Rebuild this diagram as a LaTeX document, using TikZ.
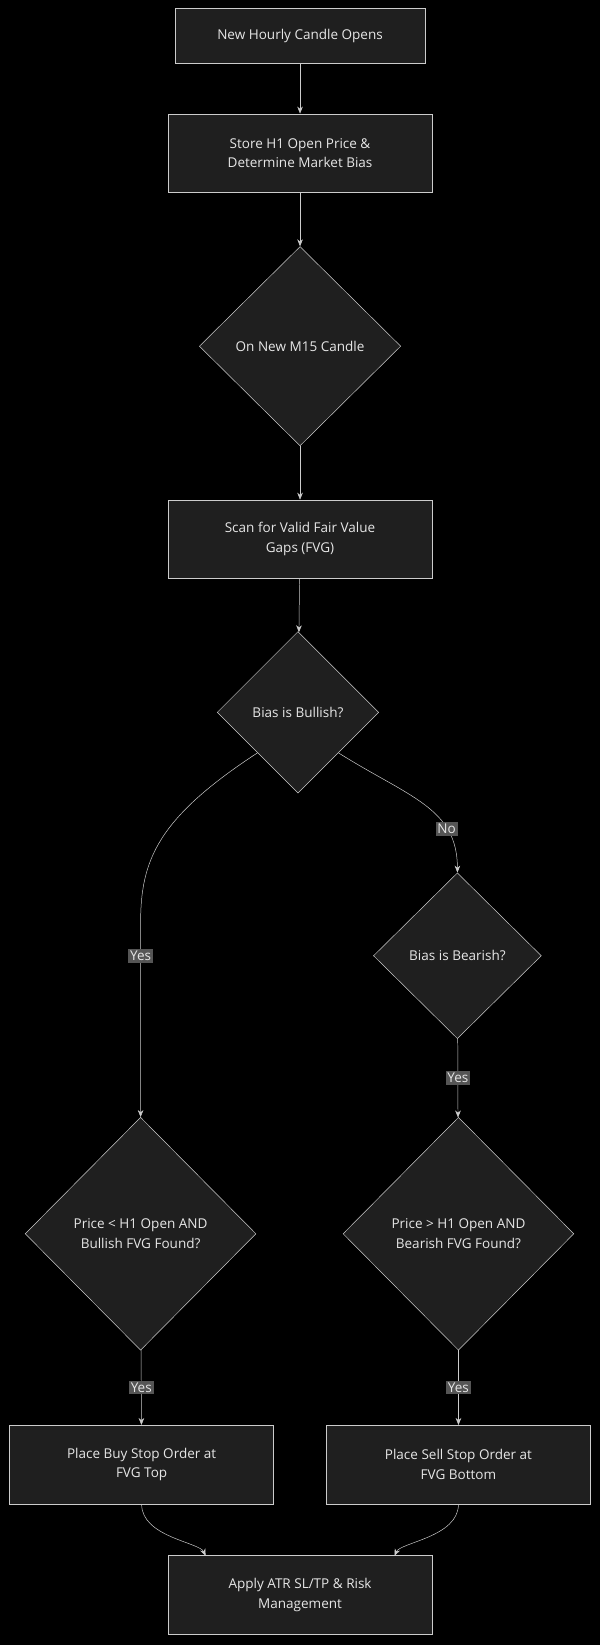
\documentclass[tikz,border=0pt]{standalone}
\usepackage{fontspec}
\setmainfont{Open Sans}
\usetikzlibrary{arrows.meta,shapes.geometric}
\definecolor{bg}{HTML}{000000}
\definecolor{boxfill}{HTML}{1F1F1F}
\definecolor{edge}{HTML}{CCCCCC}
\definecolor{txt}{HTML}{E6E6E6}
\definecolor{lbl}{HTML}{555555}
\tikzset{
  step/.style={draw=edge, fill=boxfill, text=txt, align=center, font=\fontsize{11}{16}\selectfont, minimum width=#1, inner sep=0pt},
  step/.default={7.55cm},
  check/.style={draw=edge, fill=boxfill, text=txt, align=center, diamond, inner sep=0pt, font=\fontsize{11}{16}\selectfont},
  flow/.style={draw=edge, -{Stealth[length=2mm,width=1.6mm]}},
  tag/.style={fill=lbl, text=txt, inner sep=1.5pt, font=\fontsize{11}{13}\selectfont}
}
\begin{document}
\begin{tikzpicture}[x=0.03cm,y=-0.03cm]
    % Background and frame
    \fill[bg] (0,0) rectangle (572,1568);
    \useasboundingbox (0,0) rectangle (572,1568);

    % Boxes
    \node[step=7.14cm, minimum height=1.56cm] (open) at (286,34) {New Hourly Candle Opens};
    \node[step, minimum height=2.25cm] (store) at (286,146) {Store H1 Open Price \&\\Determine Market Bias};
    \node[step, minimum height=2.25cm] (scan) at (286,514) {Scan for Valid Fair Value\\Gaps (FVG)};
    \node[step, minimum height=2.25cm] (buy) at (135,1396) {Place Buy Stop Order at\\FVG Top};
    \node[step, minimum height=2.25cm] (sell) at (437,1396) {Place Sell Stop Order at\\FVG Bottom};
    \node[step, minimum height=2.25cm] (risk) at (286,1520) {Apply ATR SL/TP \& Risk\\Management};

    % Decisions
    \node[check, minimum width=5.76cm, minimum height=5.7cm] (candle) at (286,330) {On New M15 Candle};
    \node[check, minimum width=4.62cm, minimum height=4.62cm] (bull) at (284,679) {Bias is Bullish?};
    \node[check, minimum width=4.8cm, minimum height=4.74cm] (bear) at (436,911) {Bias is Bearish?};
    \node[check, minimum width=6.6cm, minimum height=6.66cm] (long) at (134,1176) {Price < H1 Open AND\\Bullish FVG Found?};
    \node[check, minimum width=6.6cm, minimum height=6.66cm] (short) at (437,1176) {Price > H1 Open AND\\Bearish FVG Found?};

    % Connectors
    \draw[flow] (open) -- (store);
    \draw[flow] (store) -- (candle);
    \draw[flow] (candle) -- (scan);
    \draw[flow] (scan) -- (bull);
    \draw[flow] (bull.south west) .. controls (150,780) and (134,820) .. (134,880) -- (long.north)
        node[tag, pos=0.17] {Yes};
    \draw[flow] (bull.south east) .. controls (390,760) and (436,770) .. (bear.north)
        node[tag, pos=0.72] {No};
    \draw[flow] (bear) -- (short) node[tag, midway] {Yes};
    \draw[flow] (long) -- (buy) node[tag, midway] {Yes};
    \draw[flow] (short) -- (sell) node[tag, midway] {Yes};
    \draw[flow] (buy.south) .. controls (135,1465) and (190,1470) .. (196,1483);
    \draw[flow] (sell.south) .. controls (437,1465) and (382,1470) .. (376,1483);
\end{tikzpicture}
\end{document}
